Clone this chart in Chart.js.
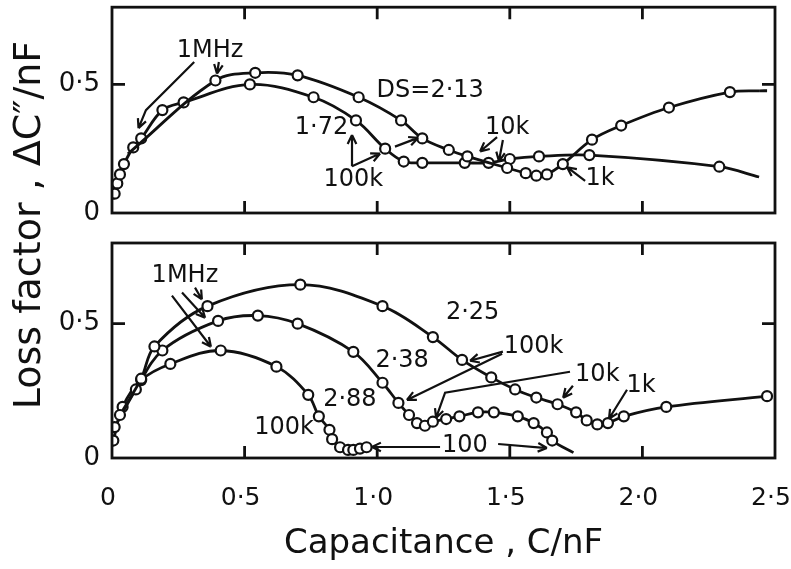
<!DOCTYPE html>
<html>
<head>
<meta charset="utf-8">
<script src="https://cdn.jsdelivr.net/npm/chart.js@4.4.0/dist/chart.umd.min.js"></script>
<style>
  html, body { margin: 0; padding: 0; background: #fff; }
  #wrap { position: relative; width: 791px; height: 569px; overflow: hidden; }
  canvas { position: absolute; left: 0; }
  #topChart { top: 0; }
  #bottomChart { top: 230px; }
  #yTitle {
    position: absolute; left: -193px; top: 203px; width: 440px; height: 44px;
    line-height: 44px; text-align: center; transform: rotate(-90deg);
    font: 38px "DejaVu Sans", sans-serif; color: #111; white-space: nowrap;
  }
</style>
</head>
<body>
<div id="wrap">
  <canvas id="topChart" width="791" height="228"></canvas>
  <canvas id="bottomChart" width="791" height="339"></canvas>
  <div id="yTitle">Loss factor , ΔC″/nF</div>
</div>
<script>
// values (C in nF, loss factor in nF)
// upper panel
const top213C = [0.06, 0.39, 0.54, 0.70, 0.93, 1.09, 1.17, 1.27, 1.34, 1.49, 1.56, 1.60, 1.64, 1.70, 1.81, 1.92, 2.10, 2.33, 2.44, 2.50];
const top213Loss = [0.23, 0.515, 0.545, 0.535, 0.45, 0.36, 0.29, 0.245, 0.22, 0.175, 0.155, 0.145, 0.15, 0.19, 0.285, 0.34, 0.41, 0.47, 0.475, 0.475];
const top172C = [0.01, 0.02, 0.03, 0.045, 0.08, 0.11, 0.19, 0.27, 0.52, 0.76, 0.92, 1.03, 1.10, 1.17, 1.33, 1.42, 1.50, 1.61, 1.80, 2.29, 2.44];
const top172Loss = [0.075, 0.115, 0.15, 0.19, 0.255, 0.29, 0.40, 0.43, 0.50, 0.45, 0.36, 0.25, 0.20, 0.195, 0.195, 0.195, 0.21, 0.22, 0.225, 0.18, 0.14];

// lower panel
const bot225C = [0.03, 0.11, 0.16, 0.36, 0.71, 1.02, 1.21, 1.32, 1.43, 1.52, 1.60, 1.68, 1.75, 1.79, 1.83, 1.87, 1.93, 2.09, 2.47];
const bot225Loss = [0.16, 0.295, 0.415, 0.565, 0.645, 0.565, 0.45, 0.365, 0.30, 0.255, 0.225, 0.20, 0.17, 0.14, 0.125, 0.13, 0.155, 0.19, 0.23];
const bot238C = [0.01, 0.09, 0.19, 0.40, 0.55, 0.70, 0.91, 1.02, 1.08, 1.12, 1.15, 1.18, 1.21, 1.26, 1.31, 1.38, 1.44, 1.53, 1.59, 1.64, 1.66, 1.74];
const bot238Loss = [0.115, 0.255, 0.40, 0.51, 0.53, 0.50, 0.395, 0.28, 0.205, 0.16, 0.13, 0.12, 0.135, 0.145, 0.155, 0.17, 0.17, 0.155, 0.13, 0.095, 0.065, 0.02];
const bot288C = [0.005, 0.04, 0.11, 0.22, 0.41, 0.62, 0.74, 0.78, 0.82, 0.83, 0.86, 0.89, 0.91, 0.935, 0.96];
const bot288Loss = [0.065, 0.19, 0.29, 0.35, 0.40, 0.34, 0.235, 0.155, 0.105, 0.07, 0.04, 0.03, 0.03, 0.035, 0.04];

// axes
const xTicks = [0, 0.5, 1.0, 1.5, 2.0, 2.5];
const yTicks = [0, 0.5];

// labels and arrows, in data units
const topNotes = [
  { text: '1MHz', at: [0.37, 0.63] },
  { text: 'DS=2·13', at: [1.20, 0.477] },
  { text: '1·72', at: [0.79, 0.333] },
  { text: '100k', at: [0.91, 0.129] },
  { text: '10k', at: [1.49, 0.333] },
  { text: '1k', at: [1.84, 0.133] },
];
const topArrows = [
  [[0.31, 0.587], [0.128, 0.40], [0.10, 0.33]],
  [[0.403, 0.587], [0.396, 0.542]],
  [[0.905, 0.182], [0.905, 0.303]],
  [[0.905, 0.182], [1.011, 0.231]],
  [[1.067, 0.258], [1.154, 0.292]],
  [[1.452, 0.295], [1.388, 0.239]],
  [[1.474, 0.284], [1.459, 0.201]],
  [[1.784, 0.125], [1.716, 0.178]],
];
const bottomNotes = [
  { text: '1MHz', at: [0.275, 0.679] },
  { text: '2·25', at: [1.36, 0.541] },
  { text: '100k', at: [1.59, 0.414] },
  { text: '2·38', at: [1.094, 0.362] },
  { text: '10k', at: [1.83, 0.31] },
  { text: '1k', at: [1.995, 0.269] },
  { text: '2·88', at: [0.897, 0.216] },
  { text: '100k', at: [0.649, 0.112] },
  { text: '100', at: [1.331, 0.045] },
];
const bottomArrows = [
  [[0.226, 0.604], [0.373, 0.414]],
  [[0.264, 0.616], [0.351, 0.522]],
  [[0.313, 0.634], [0.339, 0.590]],
  [[1.474, 0.396], [1.350, 0.362]],
  [[1.471, 0.388], [1.112, 0.216]],
  [[1.727, 0.321], [1.256, 0.243], [1.222, 0.149]],
  [[1.738, 0.269], [1.701, 0.224]],
  [[1.942, 0.254], [1.874, 0.146]],
  [[1.237, 0.041], [0.980, 0.041]],
  [[1.456, 0.052], [1.640, 0.037]],
];

const ink = '#111';
const font = '"DejaVu Sans", sans-serif';

function pairs(xs, ys) {
  return xs.map((v, i) => ({ x: v, y: ys[i] }));
}

// open circles, with hidden points where a line only runs on
function series(xs, ys, hidden, dashedTail) {
  const last = xs.length - 1;
  return {
    data: pairs(xs, ys),
    borderColor: ink,
    borderWidth: 2.8,
    backgroundColor: '#fff',
    pointBackgroundColor: '#fff',
    pointBorderColor: ink,
    pointBorderWidth: 2.2,
    pointRadius: xs.map((v, i) => hidden.includes(i) ? 0 : 5),
    tension: 0.35,
    segment: dashedTail ? { borderDash: (c) => c.p1DataIndex === last ? [8, 7] : undefined } : undefined,
  };
}

// box, inward ticks, labels and arrows
const framePlugin = {
  id: 'framePlugin',
  afterDatasetsDraw(chart, args, opts) {
    const { ctx, chartArea: a, scales: { x, y } } = chart;
    ctx.save();
    ctx.strokeStyle = ink;
    ctx.lineWidth = 2.8;
    ctx.strokeRect(a.left, a.top, a.right - a.left, a.bottom - a.top);
    ctx.beginPath();
    xTicks.slice(1, -1).forEach((v) => {
      const px = x.getPixelForValue(v);
      ctx.moveTo(px, a.bottom); ctx.lineTo(px, a.bottom - 12);
      ctx.moveTo(px, a.top); ctx.lineTo(px, a.top + 12);
    });
    const py = y.getPixelForValue(0.5);
    ctx.moveTo(a.left, py); ctx.lineTo(a.left + 13, py);
    ctx.moveTo(a.right, py); ctx.lineTo(a.right - 13, py);
    ctx.stroke();

    ctx.lineWidth = 2.2;
    opts.arrows.forEach((arr) => {
      const pts = arr.map((p) => [x.getPixelForValue(p[0]), y.getPixelForValue(p[1])]);
      ctx.beginPath();
      ctx.moveTo(pts[0][0], pts[0][1]);
      pts.slice(1).forEach((p) => ctx.lineTo(p[0], p[1]));
      const [x1, y1] = pts[pts.length - 2];
      const [x2, y2] = pts[pts.length - 1];
      const ang = Math.atan2(y2 - y1, x2 - x1);
      [-0.45, 0.45].forEach((d) => {
        ctx.moveTo(x2, y2);
        ctx.lineTo(x2 - 10 * Math.cos(ang + d), y2 - 10 * Math.sin(ang + d));
      });
      ctx.stroke();
    });

    ctx.fillStyle = ink;
    ctx.textAlign = 'center';
    ctx.textBaseline = 'middle';
    ctx.font = '24px ' + font;
    opts.notes.forEach((n) => {
      ctx.fillText(n.text, x.getPixelForValue(n.at[0]), y.getPixelForValue(n.at[1]));
    });
    ctx.restore();
  },
};

function tickText(v) {
  return v === 0 ? '0' : v.toFixed(1).replace('.', '·');
}

function makeOptions(isBottom, notes, arrows) {
  return {
    responsive: false,
    devicePixelRatio: 1,
    animation: false,
    layout: { padding: { top: isBottom ? 13 : 4, right: 16, left: 0, bottom: 0 } },
    plugins: {
      legend: { display: false },
      tooltip: { enabled: false },
      framePlugin: { notes: notes, arrows: arrows },
    },
    scales: {
      x: {
        type: 'linear',
        min: 0,
        max: 2.5,
        afterBuildTicks: (s) => { s.ticks = xTicks.map((v) => ({ value: v })); },
        afterFit: (s) => { s.height = isBottom ? 111 : 15; s.paddingLeft = 0; s.paddingRight = 0; },
        grid: { display: false, drawTicks: false },
        border: { display: false },
        ticks: {
          display: isBottom,
          padding: 25,
          labelOffset: -4,
          color: ink,
          font: { family: font, size: 25 },
          maxRotation: 0,
          callback: tickText,
        },
        title: {
          display: isBottom,
          text: 'Capacitance , C/nF',
          color: ink,
          font: { family: font, size: 34 },
          padding: { top: 0, bottom: 4 },
        },
      },
      y: {
        min: 0,
        max: 0.8,
        afterBuildTicks: (s) => { s.ticks = yTicks.map((v) => ({ value: v })); },
        afterFit: (s) => { s.width = 112; s.paddingTop = 0; s.paddingBottom = 0; },
        grid: { display: false, drawTicks: false },
        border: { display: false },
        ticks: { padding: 12, color: ink, font: { family: font, size: 26 }, callback: tickText },
      },
    },
  };
}

new Chart(document.getElementById('topChart'), {
  type: 'line',
  data: {
    datasets: [
      series(top213C, top213Loss, [0, 18, 19], true),
      series(top172C, top172Loss, [20], false),
    ],
  },
  options: makeOptions(false, topNotes, topArrows),
  plugins: [framePlugin],
});

new Chart(document.getElementById('bottomChart'), {
  type: 'line',
  data: {
    datasets: [
      series(bot225C, bot225Loss, [], false),
      series(bot238C, bot238Loss, [21], false),
      series(bot288C, bot288Loss, [], false),
    ],
  },
  options: makeOptions(true, bottomNotes, bottomArrows),
  plugins: [framePlugin],
});
</script>
</body>
</html>
